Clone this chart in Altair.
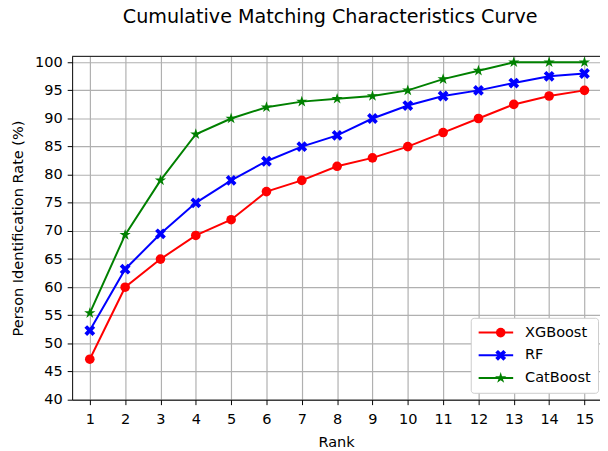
import altair as alt
import pandas as pd

ranks = list(range(1, 16))
series_names = ["XGBoost", "RF", "CatBoost"]
xgboost = [47.2, 60.0, 65.0, 69.2, 72.0, 77.0, 79.0, 81.5, 83.0, 85.0, 87.5, 90.0, 92.5, 94.0, 95.0]
rf = [52.3, 63.2, 69.5, 75.0, 79.0, 82.4, 85.0, 87.0, 90.0, 92.3, 94.0, 95.0, 96.3, 97.5, 98.0]
catboost = [55.4, 69.3, 79.0, 87.2, 90.0, 92.0, 93.0, 93.5, 94.0, 95.0, 97.0, 98.5, 100.0, 100.0, 100.0]
colors = ["#ff0000", "#0000ff", "#008000"]
y_ticks = list(range(40, 101, 5))

X_PATH = "M-1,-0.5L-0.5,-1L0,-0.5L0.5,-1L1,-0.5L0.5,0L1,0.5L0.5,1L0,0.5L-0.5,1L-1,0.5L-0.5,0Z"
STAR_PATH = ("M0,-1L0.2245,-0.309L0.951,-0.309L0.3633,0.118L0.588,0.809L0,0.382"
             "L-0.588,0.809L-0.3633,0.118L-0.951,-0.309L-0.2245,-0.309Z")
shapes = ["circle", X_PATH, STAR_PATH]
marker_sizes = [95, 144, 160]

rows = []
for name, vals in zip(series_names, [xgboost, rf, catboost]):
    for r, v in zip(ranks, vals):
        rows.append({"Rank": r, "Rate": v, "Model": name, "Series": name})
df = pd.DataFrame(rows)

W, H = 535, 348
FS = 14.7

x_enc = alt.X("Rank:Q", scale=alt.Scale(domain=[0.5, 15.44], nice=False, zero=False),
              axis=alt.Axis(values=ranks, title="Rank", format="d", titlePadding=9, labelPadding=7))
y_enc = alt.Y("Rate:Q", scale=alt.Scale(domain=[40, 101.05], nice=False, zero=False),
              axis=alt.Axis(values=y_ticks, title="Person Identification Rate (%)", titlePadding=9,
                            labelPadding=5))

base = alt.Chart(df)

lines = base.mark_line(strokeWidth=2).encode(
    x=x_enc, y=y_enc,
    stroke=alt.Stroke("Series:N", sort=series_names, scale=alt.Scale(range=colors),
                      legend=alt.Legend(orient="none", legendX=404, legendY=265, title=None,
                                        symbolType="stroke", symbolSize=1225, symbolStrokeWidth=2,
                                        labelFontSize=FS, labelOffset=11, clipHeight=16, rowPadding=7,
                                        fillColor="white", strokeColor="#cccccc", cornerRadius=3,
                                        padding=7, labelColor="black")),
)

points = base.mark_point(filled=True, opacity=1, strokeWidth=0).encode(
    x=x_enc, y=y_enc,
    color=alt.Color("Model:N", scale=alt.Scale(domain=series_names, range=colors),
                    legend=alt.Legend(orient="none", legendX=420, legendY=265, title=None,
                                      symbolSize=110, labelFontSize=FS, labelOpacity=0,
                                      clipHeight=16, rowPadding=7, padding=7, symbolStrokeWidth=0,
                                      symbolOpacity=1)),
    shape=alt.Shape("Model:N", scale=alt.Scale(domain=series_names, range=shapes)),
    size=alt.Size("Model:N", scale=alt.Scale(domain=series_names, range=marker_sizes), legend=None),
)

top_rule = alt.Chart(pd.DataFrame({"k": [0]})).mark_rule(color="black", strokeWidth=1).encode(
    x=alt.value(0), x2=alt.value(W), y=alt.value(0)
)

chart = alt.layer(lines, points, top_rule).properties(
    width=W, height=H,
    title=alt.TitleParams("Cumulative Matching Characteristics Curve", fontSize=19.4,
                          fontWeight="normal", font="DejaVu Sans", color="black",
                          anchor="middle", dx=-6, offset=27),
    autosize=alt.AutoSizeParams(type="none"),
    padding={"left": 65, "top": 46, "right": 0, "bottom": 49},
).configure_view(stroke=None).configure_axis(
    domainColor="black", domainWidth=1, tickColor="black", tickSize=5, tickWidth=1,
    labelFontSize=FS, labelColor="black", labelFont="DejaVu Sans",
    titleFontSize=FS, titleFontWeight="normal", titleColor="black", titleFont="DejaVu Sans",
    gridColor="#b0b0b0", gridWidth=1.2,
).configure_legend(labelFont="DejaVu Sans")

chart.save("out.html", embed_options={"renderer": "svg", "actions": False})
